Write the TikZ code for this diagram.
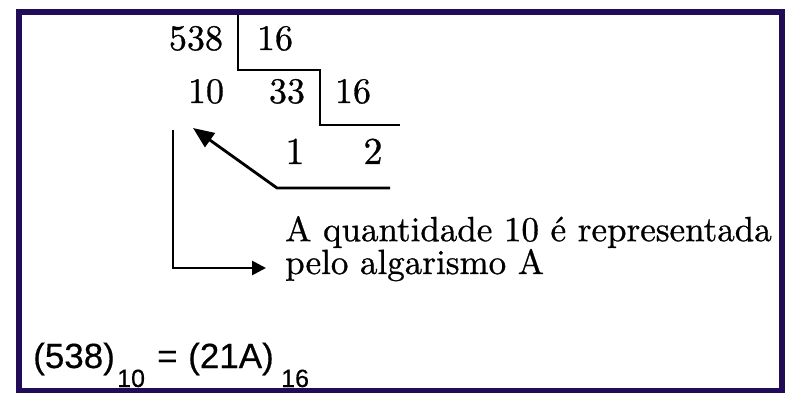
\documentclass[tikz,border=0pt]{standalone}
\usepackage{fontspec}
\newfontfamily\eqfont{Liberation Sans}[FakeBold=0.4]
\newfontfamily\tenrm{lmroman10-regular}[Extension=.otf, FakeBold=0.8]
\usetikzlibrary{arrows.meta}
\definecolor{frameblue}{RGB}{34,12,88}
\begin{document}
\begin{tikzpicture}[x=1pt,y=-1pt,
  num/.style={font=\tenrm\fontsize{36}{36}\selectfont, inner sep=0pt, anchor=base},
  txt/.style={font=\tenrm\fontsize{35}{28}\selectfont, inner sep=0pt, anchor=base west, align=left},
  eq/.style={font=\eqfont\fontsize{35}{35}\selectfont, inner sep=0pt, anchor=base west},
  eqsub/.style={font=\eqfont\fontsize{25}{25}\selectfont, inner sep=0pt, anchor=base west},
  rule/.style={line width=2.8pt, line cap=butt, line join=miter}]
\useasboundingbox (0,0) rectangle (785,393);
\draw[frameblue, line width=6pt] (19,12) rectangle (782,391);

% division numbers
\node[num] (n538) at (196,50) {538};
\node[num] (d1) at (275,50) {16};
\node[num] (n10) at (206,103) {10};
\node[num] (n33) at (287,103) {33};
\node[num] (d2) at (353,103) {16};
\node[num, font=\tenrm\fontsize{38}{38}\selectfont] (q1) at (295,164) {1};
\node[num, font=\tenrm\fontsize{38}{38}\selectfont] (q2) at (373,164) {2};

% division brackets
\coordinate (v1t) at (238,15);
\coordinate (v1b) at (238,70);
\coordinate (h1e) at (320,70);
\coordinate (v2b) at (320,125);
\coordinate (h2e) at (400,125);
\draw[rule] (v1t) -- (v1b) -- (h1e) -- (v2b) -- (h2e);

% arrow back to the remainder 10
\coordinate (r0) at (390,188);
\coordinate (r1) at (277,188);
\coordinate (tip) at (193,128);
\draw[rule, -{Triangle[length=21pt,width=17pt]}] (r0) -- (r1) -- (tip);

% explanation
\node[txt] (expl) at (285,274) {A quantidade 10 é representada\\pelo algarismo A};
\coordinate (l0) at (173,130);
\coordinate (l1) at (173,268);
\coordinate (l2) at (266,268);
\draw[rule, -{Triangle[length=14pt,width=14pt]}] (l0) -- (l1) -- (l2);

% result
\node[eq] (e1) at (33,368) {(538)};
\node[eqsub] (s1) at (117,387) {10};
\node[eq] (eqs) at (157,368) {=};
\node[eq] (e2) at (188,368) {(21A)};
\node[eqsub] (s2) at (281,387) {16};
\end{tikzpicture}
\end{document}
